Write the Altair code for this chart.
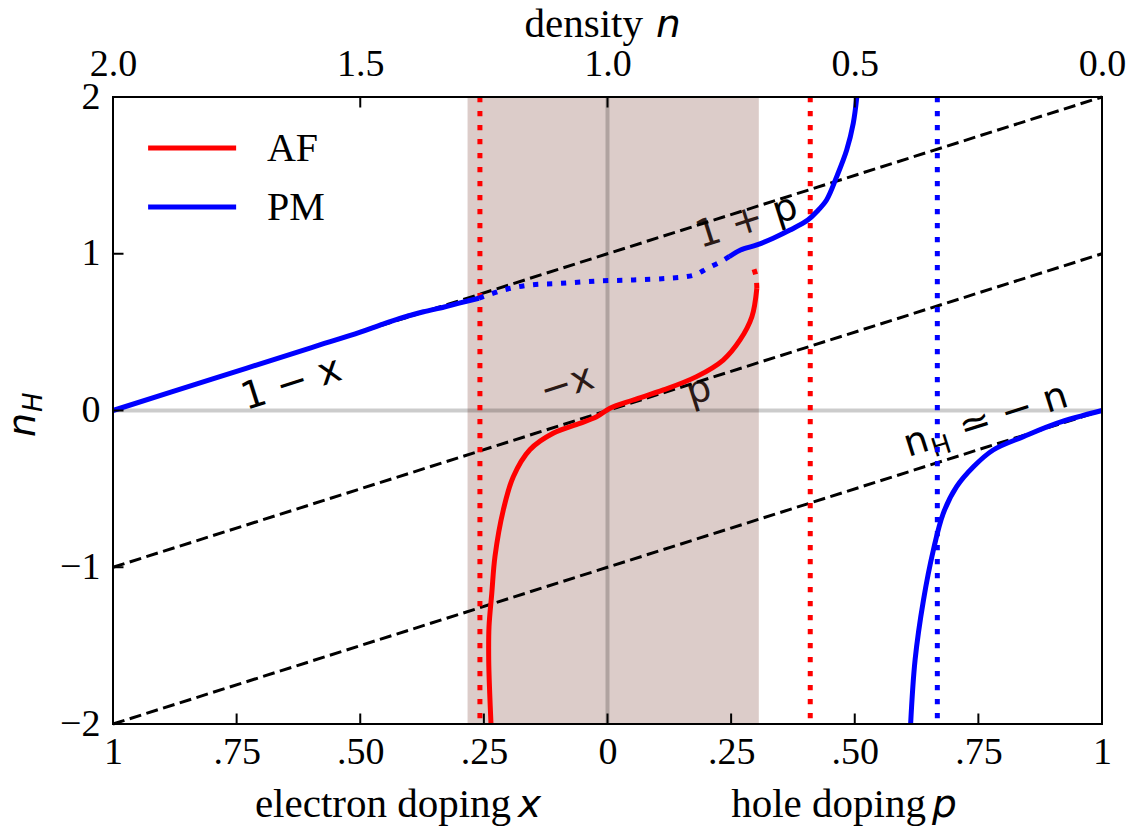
import altair as alt
import pandas as pd

# ---------------- layout ----------------
W, H = 989, 627
PAD = {"left": 113, "top": 97, "right": 1134 - 113 - W, "bottom": 829 - 97 - H}

# ---------------- data ----------------
# AF branch (solid red)
af_x = [-0.2356, -0.2382, -0.2402, -0.2396, -0.234, -0.2275, -0.2107, -0.1905,
        -0.157, -0.110, -0.056, -0.022, 0.005, 0.052, 0.113, 0.180, 0.234, 0.268, 0.292, 0.302]
af_y = [-2.0, -1.804, -1.592, -1.379, -1.166, -0.93, -0.635, -0.422,
        -0.250, -0.145, -0.082, -0.040, 0.014, 0.067, 0.131, 0.216, 0.322, 0.450, 0.598, 0.780]
# AF continuation (dotted red)
afd_x = [0.302, 0.300, 0.292]
afd_y = [0.780, 0.860, 0.940]

# PM branch 1 (solid blue, electron side)
pm1_x = [-1.0, -0.8, -0.6, -0.5, -0.46, -0.42, -0.40, -0.372, -0.33, -0.30, -0.26]
pm1_y = [0.0, 0.20, 0.40, 0.50, 0.545, 0.588, 0.606, 0.630, 0.660, 0.685, 0.716]
# PM dotted part
pmd_x = [-0.26, -0.21, -0.156, -0.095, -0.021, 0.053, 0.121, 0.175, 0.202, 0.229, 0.246]
pmd_y = [0.716, 0.769, 0.801, 0.811, 0.826, 0.833, 0.843, 0.864, 0.907, 0.949, 0.981]
# PM branch 2 (solid blue, hole side, diverging up)
pm2_x = [0.246, 0.269, 0.302, 0.335, 0.369, 0.405, 0.423, 0.443, 0.4635, 0.4837, 0.497, 0.504]
pm2_y = [0.981, 1.024, 1.056, 1.099, 1.151, 1.215, 1.268, 1.343, 1.492, 1.662, 1.833, 1.995]
# PM branch 3 (solid blue, large hole doping)
pm3_x = [0.613, 0.622, 0.639, 0.659, 0.679, 0.706, 0.740, 0.780, 0.841, 0.908, 1.0]
pm3_y = [-2.0, -1.592, -1.209, -0.890, -0.656, -0.486, -0.359, -0.252, -0.167, -0.082, 0.0]

# reference lines n_H = offset + x
ref_offsets = [1.0, 0.0, -1.0]
ref_x = [-1.0, 1.0]

# vertical dotted markers
vline_x = [-0.258, 0.410, 0.667]
vline_series = ["AF", "AF", "PM"]

# shaded region
shade_x = [-0.283]
shade_x2 = [0.306]

# legend (drawn in data space, top-left)
leg_series = ["AF", "PM"]
leg_y = [1.675, 1.298]
leg_x1, leg_x2, leg_tx = -0.929, -0.751, -0.6886

# axes
xtick_vals = [-1, -0.75, -0.5, -0.25, 0, 0.25, 0.5, 0.75, 1]
xtick_text = ["1", ".75", ".50", ".25", "0", ".25", ".50", ".75", "1"]
ytick_vals = [-2, -1, 0, 1, 2]
ytick_text = ["\u22122", "\u22121", "0", "1", "2"]
ntick_vals = [2.0, 1.5, 1.0, 0.5, 0.0]
ntick_text = ["2.0", "1.5", "1.0", "0.5", "0.0"]
bottom_inner_ticks = [-0.75, -0.5, -0.25, 0, 0.25, 0.5, 0.75]
top_inner_ticks = [-0.5, 0.0, 0.5]
left_inner_ticks = [-1, 0, 1]

# annotations along the reference lines
ann_text = ["1 \u2212 x", "\u2212x", "p", "1 + p"]
ann_x = [-0.639, -0.082, 0.185, 0.282]
ann_y = [0.168, 0.163, 0.124, 1.203]
nh_x, nh_y = 0.608, -0.297

# axis titles
title_text = ["electron doping", "hole doping", "density"]
title_x = [-0.195, 0.644, 0.0718]
title_y = [-2.591, -2.591, 2.383]
title_var = ["x", "p", "n"]
var_x = [-0.181, 0.656, 0.098]
ylab_x, ylab_y = -1.1577, -0.169

SERIF = "Liberation Serif"
SANS = "DejaVu Sans"
ANG = 342.41
RED, BLUE = "#ff0000", "#0000ff"


def seg(xs, ys, name, series):
    return pd.DataFrame({"x": xs, "y": ys, "seg": name, "series": series, "i": range(len(xs))})


solid = pd.concat([seg(af_x, af_y, "af", "AF"), seg(pm1_x, pm1_y, "pm1", "PM"),
                   seg(pm2_x, pm2_y, "pm2", "PM"), seg(pm3_x, pm3_y, "pm3", "PM")])
dotted = pd.concat([seg(afd_x, afd_y, "afd", "AF"), seg(pmd_x, pmd_y, "pmd", "PM")])
refs = pd.DataFrame([{"x": x, "y": o + x, "line": str(o)} for o in ref_offsets for x in ref_x])
vlines = pd.DataFrame({"x": vline_x, "series": vline_series})
shade = pd.DataFrame({"x": shade_x, "x2": shade_x2})
leg = pd.DataFrame({"series": leg_series, "y": leg_y, "x": leg_x1, "x2": leg_x2, "tx": leg_tx})
ann = pd.DataFrame({"t": ann_text, "x": ann_x, "y": ann_y})
titles = pd.DataFrame({"t": title_text, "x": title_x, "y": title_y})
vars_ = pd.DataFrame({"t": title_var, "x": var_x, "y": title_y})


def lab_expr(vals, texts):
    return "".join(f"datum.value == {v} ? '{t}' : " for v, t in zip(vals, texts)) + "''"


xs = alt.Scale(domain=[-1, 1], nice=False, zero=False)
ys = alt.Scale(domain=[-2, 2], nice=False, zero=False)
x_axis = alt.Axis(values=xtick_vals, labelExpr=lab_expr(xtick_vals, xtick_text), ticks=False,
                  domain=False, grid=False, title=None, labelFont=SERIF, labelFontSize=38,
                  labelColor="black", labelPadding=9, labelFlush=False, labelOverlap=False)
y_axis = alt.Axis(values=ytick_vals, labelExpr=lab_expr(ytick_vals, ytick_text), ticks=False,
                  domain=False, grid=False, title=None, labelFont=SERIF, labelFontSize=38,
                  labelColor="black", labelPadding=13, labelFlush=False, labelOverlap=False)


def X(f="x"):
    return alt.X(f"{f}:Q", scale=xs, axis=x_axis)


def Y(f="y"):
    return alt.Y(f"{f}:Q", scale=ys, axis=y_axis)


color = alt.Color("series:N", scale=alt.Scale(domain=["AF", "PM"], range=[RED, BLUE]), legend=None)

# text along reference lines (drawn first: the shading covers it)
ann_layer = alt.Chart(ann).mark_text(font=SANS, fontSize=38, angle=ANG, align="center",
                                     baseline="middle", color="black").encode(x=X(), y=Y(), text="t:N")
nh_df = pd.DataFrame({"x": [nh_x], "y": [nh_y]})
nh1 = alt.Chart(nh_df).mark_text(text="n", font=SANS, fontSize=38, angle=ANG, align="left",
                                 baseline="alphabetic", color="black").encode(x=X(), y=Y())
nh2 = alt.Chart(nh_df).mark_text(text="H", font=SANS, fontSize=26, angle=ANG, align="left",
                                 baseline="alphabetic", dx=25, dy=8, color="black").encode(x=X(), y=Y())
nh3 = alt.Chart(nh_df).mark_text(text="\u2243 \u2212 n", font=SANS, fontSize=38, angle=ANG, align="left",
                                 baseline="alphabetic", dx=58, color="black").encode(x=X(), y=Y())

shade_layer = alt.Chart(shade).mark_rect(color="#8c564b", opacity=0.3).encode(
    x=X("x"), x2="x2:Q", y=alt.datum(-2, scale=ys), y2=alt.datum(2))

zero_h = alt.Chart(pd.DataFrame({"y": [0]})).mark_rule(color="black", opacity=0.2, strokeWidth=4).encode(
    y=Y(), x=alt.datum(-1, scale=xs), x2=alt.datum(1))
zero_v = alt.Chart(pd.DataFrame({"x": [0]})).mark_rule(color="black", opacity=0.2, strokeWidth=4).encode(
    x=X(), y=alt.datum(-2, scale=ys), y2=alt.datum(2))

ref_layer = alt.Chart(refs).mark_line(color="black", strokeWidth=3, strokeDash=[12, 5.5]).encode(
    x=X(), y=Y(), detail="line:N")

vline_layer = alt.Chart(vlines).mark_rule(strokeWidth=5, strokeDash=[5.3, 8.7]).encode(
    x=X(), y=alt.datum(2, scale=ys), y2=alt.datum(-2), color=color)

dotted_layer = alt.Chart(dotted).mark_line(strokeWidth=5, strokeDash=[5.3, 8.7],
                                           interpolate="catmull-rom").encode(
    x=X(), y=Y(), detail="seg:N", order="i:Q", color=color)

solid_layer = alt.Chart(solid).mark_line(strokeWidth=5, interpolate="catmull-rom").encode(
    x=X(), y=Y(), detail="seg:N", order="i:Q", color=color)

leg_lines = alt.Chart(leg).mark_rule(strokeWidth=5).encode(x=X(), x2="x2:Q", y=Y(), color=color)
leg_text = alt.Chart(leg).mark_text(font=SERIF, fontSize=40, align="left", baseline="middle", dy=1,
                                    color="black").encode(x=X("tx"), y=Y(), text="series:N")

frame = alt.Chart(pd.DataFrame({"a": [0]})).mark_rect(filled=False, stroke="black", strokeWidth=2).encode(
    x=alt.datum(-1, scale=xs), x2=alt.datum(1), y=alt.datum(-2, scale=ys), y2=alt.datum(2))

tick_b = alt.Chart(pd.DataFrame({"x": bottom_inner_ticks})).mark_rule(color="black", strokeWidth=2, y2Offset=-10.5).encode(
    x=X(), y=alt.datum(-2, scale=ys), y2=alt.datum(-2))
tick_t = alt.Chart(pd.DataFrame({"x": top_inner_ticks})).mark_rule(color="black", strokeWidth=2, y2Offset=10.5).encode(
    x=X(), y=alt.datum(2, scale=ys), y2=alt.datum(2))
tick_l = alt.Chart(pd.DataFrame({"y": left_inner_ticks})).mark_rule(color="black", strokeWidth=2, x2Offset=10.5).encode(
    y=Y(), x=alt.datum(-1, scale=xs), x2=alt.datum(-1))

title_layer = alt.Chart(titles).mark_text(font=SERIF, fontSize=41, align="right", baseline="alphabetic",
                                          color="black").encode(x=X(), y=Y(), text="t:N")
var_layer = alt.Chart(vars_).mark_text(font=SANS, fontSize=39, fontStyle="italic", align="left",
                                       baseline="alphabetic", color="black").encode(x=X(), y=Y(), text="t:N")
ylab_df = pd.DataFrame({"x": [ylab_x], "y": [ylab_y]})
ylab1 = alt.Chart(ylab_df).mark_text(text="n", font=SANS, fontSize=38, fontStyle="italic", angle=270,
                                     align="left", baseline="alphabetic", color="black").encode(x=X(), y=Y())
ylab2 = alt.Chart(ylab_df).mark_text(text="H", font=SANS, fontSize=26, fontStyle="italic", angle=270,
                                     align="left", baseline="alphabetic", dx=25, dy=7, color="black").encode(x=X(), y=Y())

main = alt.layer(ann_layer, nh1, nh2, nh3, shade_layer, zero_h, zero_v, ref_layer, vline_layer,
                 dotted_layer, solid_layer, leg_lines, leg_text, frame, tick_b, tick_t, tick_l,
                 title_layer, var_layer, ylab1, ylab2)

top_axis = alt.Axis(orient="top", values=ntick_vals, labelExpr=lab_expr(ntick_vals, ntick_text),
                    ticks=False, domain=False, grid=False, title=None, labelFont=SERIF, labelFontSize=38,
                    labelColor="black", labelPadding=14, labelFlush=False, labelOverlap=False)
top = alt.Chart(pd.DataFrame({"n": ntick_vals})).mark_point(opacity=0).encode(
    x=alt.X("n:Q", scale=alt.Scale(domain=[2, 0], nice=False, zero=False), axis=top_axis))

chart = alt.layer(main, top).resolve_scale(x="independent").properties(
    width=W, height=H, autosize=alt.AutoSizeParams(type="none"), padding=PAD
).configure_view(stroke=None).configure(background="white")

chart.save("out.html", embed_options={"renderer": "svg", "actions": False})
